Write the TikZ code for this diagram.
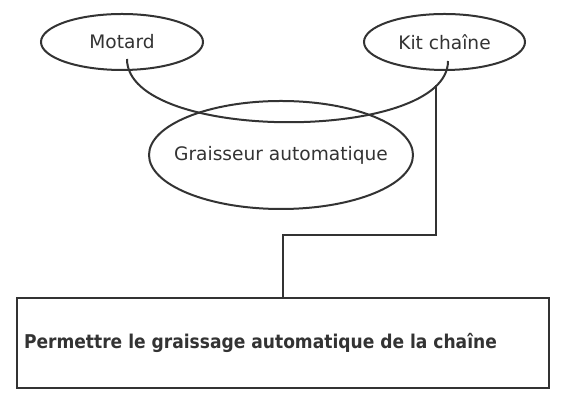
\documentclass[tikz,border=0pt]{standalone}
\usepackage{fontspec}
\setmainfont{DejaVu Sans}
\newfontfamily\condensed{DejaVu Sans Condensed}
\usetikzlibrary{shapes.geometric, positioning, calc}
\definecolor{charcoal}{RGB}{51, 51, 51}

\begin{document}
\begin{tikzpicture}[x=1pt, y=1pt,
            oval/.style={draw=charcoal, line width=2pt, ellipse, inner xsep=-20pt, inner ysep=0pt, text=charcoal, font=\fontsize{18.6}{21}\selectfont},
            frame/.style={draw=charcoal, line width=2.4pt, minimum width=532pt, minimum height=90pt},
            title/.style={text=charcoal, inner sep=0pt, font=\condensed\fontsize{19}{21}\selectfont\bfseries},
            link/.style={draw=charcoal, line width=2pt}
        ]
            \useasboundingbox (0,0) rectangle (567,403);

            \node[oval, minimum width=162pt, minimum height=56pt] (motard) at (122,361) {Motard};
            \node[oval, minimum width=161pt, minimum height=56pt] (kit) at (444.5,361) {Kit chaîne};
            \node[oval, minimum width=264pt, minimum height=108pt] (graisseur) at (281,248) {Graisseur automatique};
            \node[frame] (fonction) at (283,60) {};
            \node[title, right=8pt of fonction.west] (fonctiontext) {Permettre le graissage automatique de la chaîne};

            % arc joining the two horns
            \coordinate (start) at ($(motard.center)+(5,-17)$);
            \coordinate (end) at ($(kit.center)+(3.5,-19)$);
            \draw[link] (start) .. controls ($(start)+(0,-84)$) and ($(end)+(0,-82)$) .. (end);

            \coordinate (pivot) at (436,318);
            \draw[link] (pivot) -- ++(0,-150) -| (fonction.north);
        \end{tikzpicture}
\end{document}
